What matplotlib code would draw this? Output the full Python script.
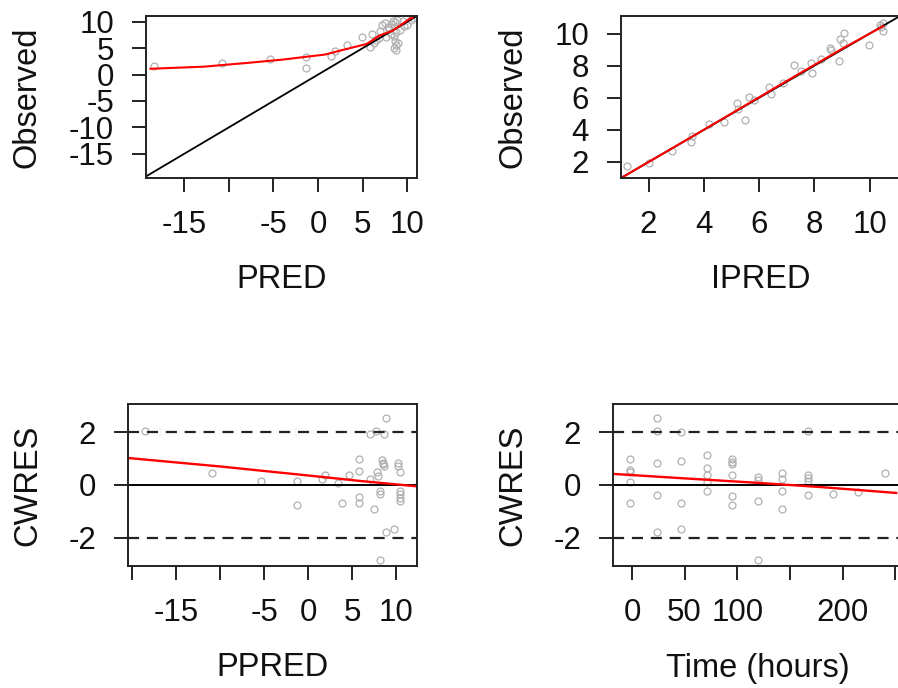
import matplotlib.pyplot as plt
import matplotlib.transforms as mtransforms

# data
pred = [-18.4, -10.8, -5.4, -1.3, -1.3, 1.5, 1.9, 3.2, 4.9, 6.0, 5.8,
        7.2, 7.5, 7.8, 8.0, 8.2, 8.4, 8.6, 8.8, 8.5, 8.6, 8.7, 8.5, 8.8,
        9.0, 8.2, 7.0, 6.8, 6.5, 6.3, 7.6, 9.2, 9.6, 10.0, 10.4, 10.6, 9.5, 8.9]
pred_obs = [1.7, 2.1, 3.0, 3.3, 1.3, 3.6, 4.4, 5.6, 7.1, 7.7, 5.2,
            9.4, 9.8, 9.0, 8.6, 9.6, 10.1, 9.9, 8.0, 7.3, 6.4, 5.6, 5.0, 4.6,
            6.0, 7.7, 8.3, 7.0, 6.5, 6.0, 7.2, 8.5, 9.2, 9.4, 10.4, 10.8, 10.2, 10.3]
pred_smooth_x = [-18.8, -12.8, -8.0, -3.9, 0.8, 2.5, 5.45, 6.9, 8.4, 10.3, 10.6]
pred_smooth_y = [1.1, 1.5, 2.2, 2.85, 3.8, 4.55, 5.8, 7.4, 8.35, 10.6, 10.75]

ipred = [1.23, 2.01, 2.84, 3.53, 3.56, 4.17, 4.74, 5.19, 5.22, 5.49, 5.65, 5.83,
         6.35, 6.44, 6.86, 7.25, 7.53, 7.89, 7.91, 8.25, 8.56, 8.62, 8.88, 8.92,
         9.08, 9.04, 9.99, 10.37, 10.49, 10.43, 10.5]
ipred_obs = [1.75, 1.96, 2.71, 3.27, 3.63, 4.38, 4.48, 5.67, 5.29, 4.63, 6.04, 5.88,
             6.67, 6.25, 6.92, 8.06, 7.65, 8.17, 7.54, 8.42, 9.1, 9.0, 8.27, 9.67,
             10.04, 9.4, 9.31, 10.56, 10.67, 10.4, 10.15]
ipred_smooth_x = [1.1, 3.0, 5.0, 7.0, 9.0, 10.5]
ipred_smooth_y = [1.1, 3.0, 5.02, 7.05, 9.05, 10.48]

ppred = [-18.6, -10.9, -5.4, -1.3, -1.3, 1.56, 1.94, 3.35, 3.85, 4.7, 5.85, 5.85,
         5.85, 5.85, 7.0, 7.0, 7.5, 7.75, 7.8, 8.0, 8.2, 8.2, 8.2, 8.4, 8.5, 8.55,
         8.6, 8.6, 8.86, 8.86, 9.8, 10.2, 10.2, 10.5, 10.5, 10.5, 10.5, 10.5]
ppred_cwres = [2.05, 0.45, 0.16, 0.16, -0.75, 0.22, 0.37, 0.07, -0.68, 0.37, 0.98, 0.54,
               -0.47, -0.68, 0.22, 1.93, -0.91, 2.05, 0.48, 0.35, -0.35, -0.22, -2.83, 0.95, 0.85, 0.78,
               0.7, 1.93, 2.52, -1.76, -1.68, 0.85, 0.72, 0.48, -0.22, -0.35, -0.48, -0.6]
ppred_smooth_x = [-20.5, -10.0, 0.0, 6.0, 12.4]
ppred_smooth_y = [1.02, 0.7, 0.36, 0.15, -0.05]

time = [-1.9, -1.6, -1.6, -1.6, -1.9, 23.4, 23.4, 23.4, 23.4, 23.4, 46.5, 46.5,
        46.5, 46.5, 70.9, 70.9, 70.9, 70.9, 70.9, 94.7, 94.7, 94.7, 94.7, 94.7, 94.7,
        119.4, 119.4, 119.4, 119.4, 142.7, 142.7, 142.7, 142.7, 167.4, 167.4, 167.4,
        167.4, 167.4, 190.6, 214.9, 240.3]
time_cwres = [0.98, 0.58, 0.48, 0.13, -0.69, 2.52, 2.05, 0.83, -0.39, -1.76, 1.99, 0.91,
              -0.69, -1.66, 1.14, 0.66, 0.37, 0.12, -0.24, 0.98, 0.88, 0.79, 0.37, -0.40, -0.75,
              0.31, 0.2, -0.62, -2.83, 0.45, 0.22, -0.24, -0.91, 2.05, 0.39, 0.27,
              0.16, -0.39, -0.34, -0.26, 0.45]
time_smooth_x = [-18, 50, 120, 180, 251]
time_smooth_y = [0.42, 0.25, 0.08, -0.08, -0.30]

W, H = 898, 688
plt.rcParams['font.family'] = ['Liberation Sans', 'DejaVu Sans']
fig = plt.figure(figsize=(W / 100, H / 100), dpi=100)


def make_axes(left, right, top, bottom):
    return fig.add_axes([left / W, (H - bottom) / H, (right - left) / W, (bottom - top) / H])


def style(ax, xlabel, ylabel, xticks, xlabels, yticks, ylabels, xlab_px, ylab_y_px):
    for s in ax.spines.values():
        s.set_linewidth(1.4)
        s.set_color('#222222')
    ax.set_xticks(xticks)
    ax.set_xticklabels(xlabels)
    ax.set_yticks(yticks)
    ax.set_yticklabels(ylabels)
    ax.tick_params(axis='both', length=10, width=1.4, color='#222222', labelsize=22.5,
                   labelcolor='#111111')
    ax.tick_params(axis='x', pad=13)
    ax.tick_params(axis='y', pad=13)
    ax.set_xlabel(xlabel, fontsize=23.5, va='center', color='#111111')
    ax.set_ylabel(ylabel, fontsize=23.5, va='center', color='#111111')
    ax.xaxis.set_label_coords(0.5, (H - ylab_y_px) / H,
                              transform=mtransforms.blended_transform_factory(ax.transAxes, fig.transFigure))
    ax.yaxis.set_label_coords(xlab_px / W, 0.5,
                              transform=mtransforms.blended_transform_factory(fig.transFigure, ax.transAxes))


pt_kw = dict(marker='o', linestyle='none', markersize=5, markerfacecolor='none',
             markeredgecolor='#B0B0B0', markeredgewidth=0.9)

# top-left: PRED vs observed
ax1 = make_axes(146, 417, 16, 178)
ax1.plot(pred, pred_obs, **pt_kw)
ax1.plot([-19.3, 11.1], [-19.3, 11.1], color='black', lw=1.3)
ax1.plot(pred_smooth_x, pred_smooth_y, color='red', lw=1.5)
ax1.set_xlim(-19.3, 11.1)
ax1.set_ylim(-19.6, 11.1)
style(ax1, 'PRED', 'Observed', [-15, -10, -5, 0, 5, 10], ['-15', '', '-5', '0', '5', '10'],
      [-15, -10, -5, 0, 5, 10], ['-15', '-10', '-5', '0', '5', '10'], 27, 280)

# top-right: IPRED vs observed
ax2 = make_axes(621, 900, 16, 178)
ax2.plot(ipred, ipred_obs, **pt_kw)
ax2.plot([1.0, 11.1], [1.0, 11.1], color='black', lw=1.3)
ax2.plot(ipred_smooth_x, ipred_smooth_y, color='red', lw=1.5)
ax2.set_xlim(1.0, 11.1)
ax2.set_ylim(1.0, 11.1)
style(ax2, 'IPRED', 'Observed', [2, 4, 6, 8, 10], ['2', '4', '6', '8', '10'],
      [2, 4, 6, 8, 10], ['2', '4', '6', '8', '10'], 513, 280)

# bottom-left: PPRED vs CWRES
ax3 = make_axes(128, 417, 404, 566)
ax3.plot(ppred, ppred_cwres, **pt_kw)
ax3.axhline(0, color='black', lw=1.4)
for yv in (-2, 2):
    ax3.axhline(yv, color='#222222', lw=1.6, ls=(0, (5, 3.5)))
ax3.plot(ppred_smooth_x, ppred_smooth_y, color='red', lw=1.7)
ax3.set_xlim(-20.5, 12.4)
ax3.set_ylim(-3.06, 3.06)
style(ax3, 'PPRED', 'CWRES', [-20, -15, -10, -5, 0, 5, 10], ['', '-15', '', '-5', '0', '5', '10'],
      [-2, 0, 2], ['-2', '0', '2'], 28, 668)

# bottom-right: time vs CWRES
ax4 = make_axes(613, 902, 404, 566)
ax4.plot(time, time_cwres, **pt_kw)
ax4.axhline(0, color='black', lw=1.4)
for yv in (-2, 2):
    ax4.axhline(yv, color='#222222', lw=1.6, ls=(0, (5, 3.5)))
ax4.plot(time_smooth_x, time_smooth_y, color='red', lw=1.7)
ax4.set_xlim(-18, 256.5)
ax4.set_ylim(-3.06, 3.06)
style(ax4, 'Time (hours)', 'CWRES', [0, 50, 100, 150, 200, 250], ['0', '50', '100', '', '200', ''],
      [-2, 0, 2], ['-2', '0', '2'], 513, 668)

fig.savefig('out.png', dpi=100)
